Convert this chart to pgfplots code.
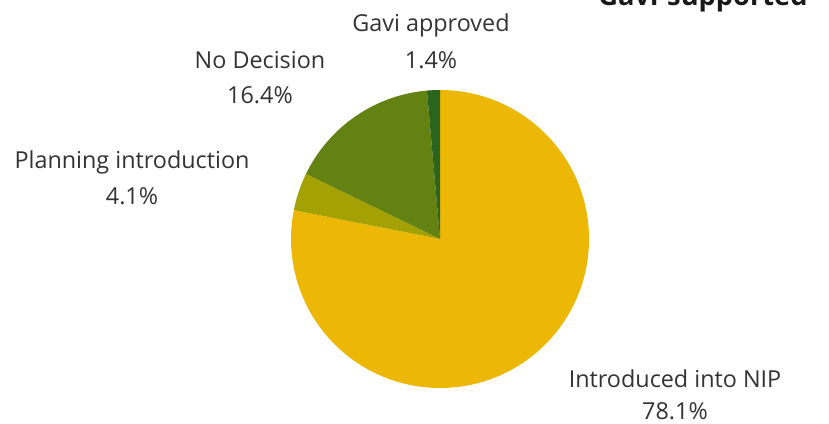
\documentclass[border=0pt]{standalone}
\usepackage{fontspec}
\setmainfont{Open Sans}
\usepackage{pgfplots}
\pgfplotsset{compat=1.18}
\definecolor{cIntro}{RGB}{236,183,5}
\definecolor{cPlan}{RGB}{163,161,3}
\definecolor{cNoDec}{RGB}{100,130,18}
\definecolor{cGavi}{RGB}{42,100,30}

% one slice: start (%), share (%), colour
\newcommand\slice[3]{%
  \pgfmathsetmacro\angA{90-3.6*#1}%
  \pgfmathsetmacro\angB{90-3.6*(#1+#2)}%
  \edef\tmp{\noexpand\fill[#3] (axis cs:440,184) -- ++(\angA:2.98cm)
    arc[start angle=\angA, end angle=\angB, radius=2.98cm] -- cycle;}%
  \tmp}

\begin{document}
\begin{tikzpicture}
\begin{axis}[
    width=16.58cm, height=8.46cm,
    scale only axis,
    xmin=0, xmax=829, ymin=0, ymax=423,
    hide axis,
    clip=false,
]
\addplot[draw=none] coordinates {(0,0)(829,423)};
\slice{0}{78.1}{cIntro}
\slice{78.1}{4.1}{cPlan}
\slice{82.2}{16.4}{cNoDec}
\slice{98.6}{1.4}{cGavi}

\begin{scope}[every node/.style={font=\fontsize{13.3}{16}\selectfont, text=black!80, align=center}]
\node at (axis cs:431,398) {Gavi approved};
\node at (axis cs:431,363) {1.4\%};
\node at (axis cs:260,363) {No Decision};
\node at (axis cs:260,328) {16.4\%};
\node at (axis cs:132,261) {Planning introduction};
\node at (axis cs:132,227) {4.1\%};
\node at (axis cs:675,44) {Introduced into NIP};
\node at (axis cs:675,12) {78.1\%};
\end{scope}
\node[anchor=base, font=\fontsize{15.5}{18}\selectfont\bfseries, text=black!90]
  at (axis cs:703,417) {Gavi-supported};
\end{axis}
\pgfresetboundingbox
\useasboundingbox (0,0) rectangle (16.58cm,8.46cm);
\end{tikzpicture}
\end{document}
